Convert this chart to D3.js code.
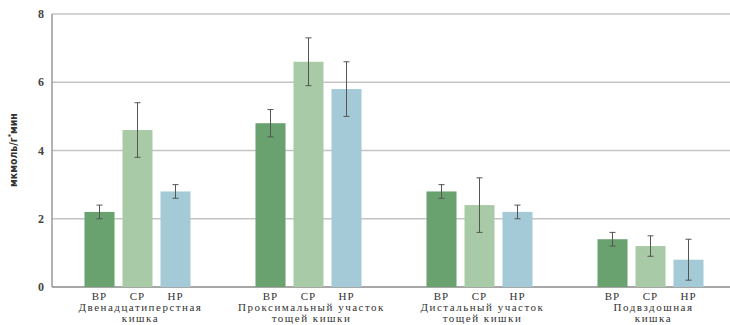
<!DOCTYPE html>
<html>
<head>
<meta charset="utf-8">
<script src="https://cdnjs.cloudflare.com/ajax/libs/d3/7.8.5/d3.min.js"></script>
<style>
  body { margin: 0; background: #fff; }
</style>
</head>
<body>
<div id="chart"></div>
<script>
// ===== Data =====
var groups = [["Двенадцатиперстная", "кишка"],
              ["Проксимальный участок", "тощей кишки"],
              ["Дистальный участок", "тощей кишки"],
              ["Подвздошная", "кишка"]];
var series = ["ВР", "СР", "НР"];
var means = [[2.2, 4.6, 2.8],
             [4.8, 6.6, 5.8],
             [2.8, 2.4, 2.2],
             [1.4, 1.2, 0.8]];
var errors = [[0.2, 0.8, 0.2],
              [0.4, 0.7, 0.8],
              [0.2, 0.8, 0.2],
              [0.2, 0.3, 0.6]];
var yTicks = [0, 2, 4, 6, 8];

function draw()
{
  var w = 730;
  var h = 325;
  var left = 52, top = 14, bottom = 287;

  var svg = d3.select("#chart")
              .append("svg")
              .attr("width", w)
              .attr("height", h);

  var color = d3.scaleOrdinal()
                .domain(series)
                .range(["#6aa26f", "#a9caa6", "#a3cad6"]);

  var y = d3.scaleLinear()
            .domain([0, 8])
            .range([bottom, top]);

  // group positions (step 171, right edge runs past the window)
  var x0 = d3.scaleBand()
             .domain(d3.range(groups.length))
             .range([left, left + 171 * groups.length])
             .padding(0);

  var x1 = d3.scaleBand()
             .domain(series)
             .range([0, x0.bandwidth()])
             .paddingInner(0.21)
             .paddingOuter(0.855);

  // gridlines
  svg.selectAll("line.grid")
     .data(yTicks)
     .enter()
     .append("line")
     .attr("class", "grid")
     .attr("x1", left)
     .attr("x2", w)
     .attr("y1", function(d) { return y(d); })
     .attr("y2", function(d) { return y(d); })
     .attr("stroke", function(d) { return d == 0 ? "#8a8a8a" : "#c4c4c4"; })
     .attr("stroke-width", 1.5);

  // y axis line
  svg.append("line")
     .attr("x1", left).attr("x2", left)
     .attr("y1", y(8)).attr("y2", y(0))
     .attr("stroke", "#9a9a9a")
     .attr("stroke-width", 1.5);

  // tick labels
  svg.selectAll("text.tick")
     .data(yTicks)
     .enter()
     .append("text")
     .attr("class", "tick")
     .attr("x", left - 8)
     .attr("y", function(d) { return y(d) + 4; })
     .attr("text-anchor", "end")
     .attr("font-family", "Liberation Serif, serif")
     .attr("font-size", "12px")
     .attr("font-weight", "bold")
     .attr("fill", "#444")
     .text(function(d) { return d; });

  // y axis title
  var yt = svg.append("text")
              .attr("transform", "translate(17,150) rotate(-90)")
              .attr("text-anchor", "middle")
              .attr("font-family", "DejaVu Sans Condensed, DejaVu Sans, sans-serif")
              .attr("font-stretch", "condensed")
              .attr("font-size", "10.5px")
              .attr("font-weight", "bold")
              .attr("fill", "#333");
  yt.append("tspan").text("мкмоль/г");
  yt.append("tspan").attr("baseline-shift", "super").attr("font-size", "7px").text("*");
  yt.append("tspan").text("мин");

  var g = svg.selectAll("g.group")
             .data(groups)
             .enter()
             .append("g")
             .attr("class", "group")
             .attr("transform", function(d, i) { return "translate(" + x0(i) + ",0)"; });

  var bars = g.selectAll("g.bar")
              .data(function(d, i) {
                return series.map(function(s, j) {
                  return {s: s, v: means[i][j], e: errors[i][j]};
                });
              })
              .enter()
              .append("g")
              .attr("class", "bar");

  bars.append("rect")
      .attr("x", function(d) { return x1(d.s); })
      .attr("width", x1.bandwidth())
      .attr("y", function(d) { return y(d.v); })
      .attr("height", function(d) { return y(0) - y(d.v); })
      .attr("fill", function(d) { return color(d.s); });

  // error bars
  bars.append("line")
      .attr("x1", function(d) { return x1(d.s) + x1.bandwidth() / 2; })
      .attr("x2", function(d) { return x1(d.s) + x1.bandwidth() / 2; })
      .attr("y1", function(d) { return y(d.v + d.e); })
      .attr("y2", function(d) { return y(d.v - d.e); })
      .attr("stroke", "#555")
      .attr("stroke-width", 1);

  [1, -1].forEach(function(sign) {
    bars.append("line")
        .attr("x1", function(d) { return x1(d.s) + x1.bandwidth() / 2 - 3; })
        .attr("x2", function(d) { return x1(d.s) + x1.bandwidth() / 2 + 3; })
        .attr("y1", function(d) { return y(d.v + sign * d.e); })
        .attr("y2", function(d) { return y(d.v + sign * d.e); })
        .attr("stroke", "#555")
        .attr("stroke-width", 1);
  });

  // series labels under bars
  bars.append("text")
      .attr("x", function(d) { return x1(d.s) + x1.bandwidth() / 2; })
      .attr("y", 300)
      .attr("text-anchor", "middle")
      .attr("font-family", "Liberation Serif, serif")
      .attr("font-size", "11px")
      .attr("letter-spacing", "1px")
      .attr("fill", "#333")
      .text(function(d) { return d.s; });

  // group labels
  g.append("text")
   .attr("x", x0.bandwidth() / 2 + 3)
   .attr("y", 311)
   .attr("text-anchor", "middle")
   .attr("font-family", "Liberation Serif, serif")
   .attr("font-size", "11px")
   .attr("letter-spacing", "1.5px")
   .attr("fill", "#333")
   .selectAll("tspan")
   .data(function(d) { return d; })
   .enter()
   .append("tspan")
   .attr("x", x0.bandwidth() / 2 + 3)
   .attr("dy", function(d, i) { return i == 0 ? 0 : 11; })
   .text(function(d) { return d; });
}

window.onload = draw;
</script>
</body>
</html>
